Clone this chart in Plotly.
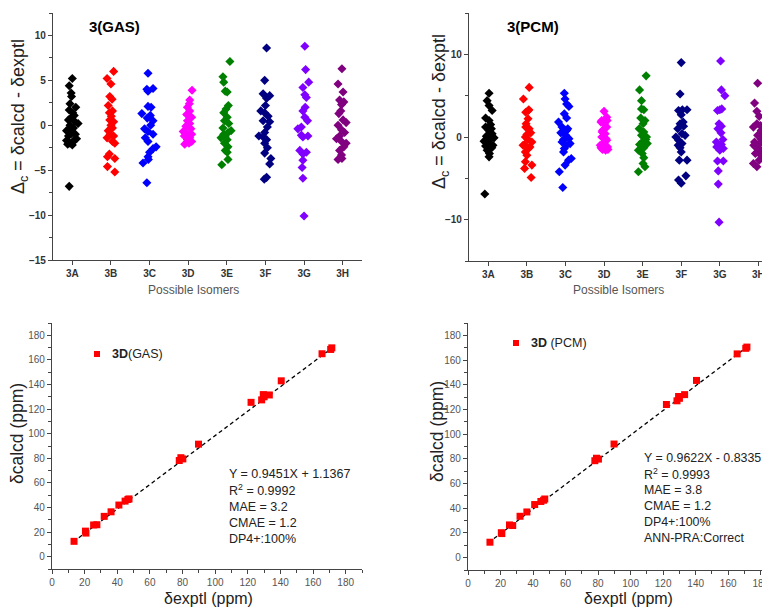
import plotly.graph_objects as go

# isomer labels and colours
ISOMERS = ["3A", "3B", "3C", "3D", "3E", "3F", "3G", "3H"]
COLORS = ["#000000", "#ff0000", "#0000ff", "#ff00ff", "#008000", "#000080", "#8000ff", "#800080"]

# Δc values (GAS) per isomer, with the horizontal scatter offsets
GAS_3A = [5.2, 4.4, 3.6, 3.2, 2.4, 2.0, 1.7, 1.4, 1.1, 0.9, 0.6, 0.4, 0.2, 0.0, -0.3, -0.4, -0.6, -0.9, -1.0, -1.2, -1.5, -1.6, -1.7, -1.8, -2.0, -2.1, -2.2, -6.8]
GAS_3A_DX = [0, -0.08, -0.03, -0.02, -0.06, 0.09, -0.08, 0.01, 0.05, -0.02, -0.1, 0.07, 0.15, -0.06, 0.03, -0.05, -0.15, -0.02, 0.08, -0.1, 0.11, 0.06, -0.15, 0.03, -0.06, -0.12, 0, -0.08]
GAS_3B = [6.0, 5.2, 4.6, 3.2, 2.9, 2.2, 1.6, 1.4, 1.0, 0.6, 0.4, 0.0, -0.3, -0.6, -1.0, -1.2, -1.4, -1.8, -2.0, -3.2, -3.5, -3.7, -4.6, -5.2]
GAS_3B_DX = [0.07, -0.1, 0, -0.03, 0.03, -0.07, 0.04, -0.04, 0.01, -0.03, 0.07, 0, 0.04, -0.07, -0.02, 0.07, -0.1, 0.04, 0.1, -0.04, -0.09, 0.1, -0.09, 0.1]
GAS_3C = [5.8, 4.1, 4.0, 3.8, 2.1, 2.0, 1.3, 1.1, 0.8, 0.5, 0.0, -0.4, -0.7, -1.0, -1.4, -1.8, -2.4, -2.6, -3.0, -3.5, -3.8, -4.2, -6.4]
GAS_3C_DX = [-0.04, 0.09, -0.07, -0.04, -0.04, 0.04, -0.2, 0.02, -0.06, 0.09, 0.03, -0.13, -0.04, 0.09, -0.11, -0.04, 0.17, 0.09, 0, -0.04, -0.03, -0.17, -0.07]
GAS_3D = [3.9, 2.8, 2.4, 2.0, 1.6, 1.2, 0.9, 0.5, 0.2, -0.1, -0.4, -0.7, -0.9, -1.0, -1.2, -1.4, -1.6, -1.8, -2.0, -2.1]
GAS_3D_DX = [0.1, 0.04, 0.03, -0.02, 0.04, -0.04, 0.09, -0.02, 0.04, -0.06, 0.07, -0.13, -0.04, 0.09, -0.1, 0.04, -0.02, 0.09, 0.02, -0.09]
GAS_3E = [7.1, 5.4, 4.8, 3.8, 3.7, 2.2, 1.8, 1.4, 0.9, 0.5, 0.2, -0.3, -0.6, -0.8, -1.0, -1.2, -1.4, -1.6, -2.0, -2.4, -2.8, -3.0, -3.8, -4.4]
GAS_3E_DX = [0.08, -0.1, -0.08, -0.04, 0.01, 0.04, -0.02, -0.08, 0.01, -0.06, 0.05, -0.1, 0.11, 0.03, -0.08, -0.04, -0.15, 0.01, -0.06, 0.03, -0.04, 0.01, 0.03, -0.13]
GAS_3F = [8.6, 5.0, 3.5, 3.3, 3.0, 2.2, 1.6, 1.4, 1.0, 0.5, 0.4, -0.2, -0.8, -1.2, -1.3, -1.6, -2.0, -2.5, -3.1, -3.7, -4.3, -5.8, -6.0]
GAS_3F_DX = [0.03, -0.02, -0.06, 0.11, 0.03, 0, -0.12, -0.02, 0.07, -0.06, 0.11, 0.05, -0.02, -0.17, -0.06, 0.03, -0.02, 0.05, -0.02, 0.14, 0.11, 0.03, -0.03]
GAS_3G = [8.8, 6.2, 4.8, 4.2, 3.4, 3.1, 2.0, 1.6, 0.9, 0.5, -0.2, -0.4, -1.1, -1.2, -1.3, -2.8, -3.0, -3.2, -3.9, -4.7, -5.9, -10.1]
GAS_3G_DX = [0.02, 0.04, 0.12, -0.03, 0.02, 0.06, 0.03, -0.03, 0.02, 0.09, -0.07, -0.16, -0.07, 0.1, -0.03, -0.11, 0.06, -0.03, -0.03, -0.05, -0.03, 0]
GAS_3H = [6.3, 4.6, 3.7, 2.8, 2.6, 2.3, 1.6, 1.3, 0.6, 0.3, 0.0, -0.5, -0.8, -1.2, -1.5, -1.8, -2.0, -2.4, -2.8, -3.3, -3.7, -3.8]
GAS_3H_DX = [-0.02, -0.12, 0.01, -0.08, 0.03, -0.03, -0.05, -0.1, 0.01, 0.09, -0.12, -0.03, 0.05, -0.08, -0.16, -0.03, 0.09, 0.03, -0.08, -0.03, -0.02, -0.12]

# Δc values (PCM) per isomer
PCM_3A = [5.3, 4.4, 3.8, 3.2, 2.3, 2.0, 1.5, 1.2, 0.8, 0.4, -0.1, -0.5, -0.8, -1.1, -1.3, -1.6, -2.0, -2.4, -6.9, 1.0, 0.1, -0.3, -1.0]
PCM_3A_DX = [0.02, -0.03, 0.02, 0.1, -0.07, 0.02, 0.06, -0.07, 0.02, 0.1, 0.15, -0.11, 0.02, -0.07, 0.09, -0.03, 0.03, 0.02, -0.09, 0.08, -0.05, 0.05, 0.12]
PCM_3B = [6.0, 4.6, 3.2, 3.0, 2.2, 1.2, 1.0, 0.5, 0.0, -0.3, -0.6, -0.9, -1.4, -1.8, -2.2, -3.0, -3.4, -3.8, -4.9, 3.3, 1.6, -1.0, -1.2, 0.3]
PCM_3B_DX = [0.06, -0.09, 0.04, -0.03, 0.03, -0.03, 0.06, 0.1, -0.04, 0.03, 0.13, -0.06, 0.04, -0.04, 0, -0.04, 0.13, -0.06, 0.11, 0.05, -0.02, -0.1, 0.08, 0.0]
PCM_3C = [5.3, 4.6, 4.0, 3.7, 2.8, 2.3, 1.8, 1.2, 0.8, 0.3, -0.2, -0.6, -1.0, -1.4, -1.8, -2.6, -2.8, -3.4, -4.2, -6.1, 1.0, -0.3, -0.8, 0.5]
PCM_3C_DX = [-0.03, -0.01, 0.03, 0.09, -0.03, 0.03, -0.18, -0.09, 0.03, -0.01, 0.09, -0.09, 0.03, -0.03, -0.05, 0.15, 0.08, -0.01, -0.16, -0.07, 0.06, -0.05, 0.12, -0.12]
PCM_3D = [3.1, 2.4, 2.0, 1.6, 1.2, 0.8, 0.4, 0.0, -0.4, -0.8, -1.0, -1.2, -1.5, -1.6, 2.0, 1.8, 0.6, -0.2, -1.3, -1.5]
PCM_3D_DX = [0, 0.07, -0.06, 0.01, 0.07, -0.04, 0.03, -0.06, 0.07, -0.02, -0.1, 0.09, -0.04, 0.04, 0.08, -0.08, -0.05, 0.05, -0.08, 0.1]
PCM_3E = [7.4, 5.7, 4.4, 3.4, 3.3, 2.3, 1.6, 1.0, 0.6, 0.2, -0.3, -0.6, -0.9, -1.3, -1.6, -2.0, -2.5, -3.2, -3.6, -4.2, 2.0, -0.8, -1.1, 0.0]
PCM_3E_DX = [0.09, -0.08, -0.03, -0.03, 0.03, -0.05, 0.01, -0.09, 0.03, -0.03, 0.08, -0.01, -0.08, 0.03, -0.11, -0.01, 0.03, 0.01, 0.06, -0.11, 0.06, 0.12, 0.0, 0.1]
PCM_3F = [9.0, 5.2, 3.3, 3.2, 2.7, 1.6, 1.3, 1.0, 0.4, 0.0, -0.4, -0.8, -1.3, -1.8, -2.8, -2.8, -4.7, -5.2, -5.6, 3.3, 1.8, 0.2, -1.0]
PCM_3F_DX = [0, -0.03, 0.03, -0.07, 0, -0.03, 0.06, -0.09, 0.02, -0.14, -0.07, 0.02, -0.03, 0, -0.05, 0.15, 0.12, -0.07, 0, 0.15, 0.05, 0.1, -0.08]
PCM_3G = [9.2, 5.7, 5.0, 3.3, 3.2, 1.6, 1.3, 0.5, -0.6, -0.9, -1.0, -1.4, -2.9, -2.9, -4.1, -5.7, -10.3, 3.4, 1.0, -0.3, -1.2, -1.6]
PCM_3G_DX = [0.02, 0.04, 0.13, 0, -0.06, -0.02, 0.04, 0.03, -0.09, 0.04, -0.04, 0.09, -0.06, 0.09, -0.04, -0.04, -0.02, 0.05, -0.05, 0.08, -0.08, 0.0]
PCM_3H = [6.5, 4.1, 3.1, 2.5, 1.6, 1.2, 0.8, 0.2, -0.6, -0.8, -1.2, -1.8, -2.2, -3.2, -3.6, 1.4, 0.5, -0.3, -1.0, -1.5, -2.0, -2.8]
PCM_3H_DX = [-0.02, -0.1, -0.04, 0.02, -0.04, -0.13, 0.07, -0.02, -0.1, 0.02, -0.07, -0.02, 0.07, -0.13, -0.04, 0.05, 0.1, 0.08, -0.12, 0.05, -0.08, 0.02]

GAS_SETS = [(GAS_3A, GAS_3A_DX), (GAS_3B, GAS_3B_DX), (GAS_3C, GAS_3C_DX), (GAS_3D, GAS_3D_DX),
            (GAS_3E, GAS_3E_DX), (GAS_3F, GAS_3F_DX), (GAS_3G, GAS_3G_DX), (GAS_3H, GAS_3H_DX)]
PCM_SETS = [(PCM_3A, PCM_3A_DX), (PCM_3B, PCM_3B_DX), (PCM_3C, PCM_3C_DX), (PCM_3D, PCM_3D_DX),
            (PCM_3E, PCM_3E_DX), (PCM_3F, PCM_3F_DX), (PCM_3G, PCM_3G_DX), (PCM_3H, PCM_3H_DX)]

# 3D correlation: experimental vs calculated shifts (ppm)
EXPTL = [13.5, 20.5, 20.8, 25.5, 27.5, 32.0, 36.2, 41.0, 44.8, 46.5, 47.2, 78.0, 79.0, 80.2, 89.8,
         122.0, 128.5, 129.5, 130.0, 133.2, 140.5, 165.5, 170.8, 171.5]
CALCD_GAS = [12.5, 20.8, 19.2, 25.8, 26.0, 32.8, 36.5, 42.0, 45.2, 46.5, 47.0, 78.2, 80.5, 79.5, 91.5,
             125.5, 127.5, 131.8, 130.0, 131.5, 143.0, 165.0, 168.5, 169.8]
CALCD_PCM = [12.5, 20.2, 19.5, 26.5, 26.0, 33.5, 37.0, 43.0, 45.5, 46.5, 47.5, 78.5, 80.5, 79.8, 92.0,
             124.0, 127.0, 130.5, 129.0, 132.0, 143.5, 165.0, 169.5, 170.5]
GAS_FIT_X = [13, 172]
GAS_FIT_Y = [12, 170]
PCM_FIT_X = [12.5, 172]
PCM_FIT_Y = [12, 171]

GAS_STATS = ["Y = 0.9451X + 1.1367", "R<sup>2</sup> = 0.9992", "MAE = 3.2", "CMAE = 1.2", "DP4+:100%"]
PCM_STATS = ["Y = 0.9622X - 0.8335", "R<sup>2</sup> = 0.9993", "MAE = 3.8", "CMAE = 1.2", "DP4+:100%",
             "ANN-PRA:Correct"]

# page body has an 8px margin, so the figure sits 8px in from the window corner
OFF = 8
W, H = 770 - OFF, 608 - OFF
FONT = "Liberation Sans, Arial, sans-serif"
AX = "#444444"


def fx(x):
    return (x - OFF) / W


def fy(y):
    return 1 - (y - OFF) / H


fig = go.Figure()

# top scatter panels
for sets, xa, ya in [(GAS_SETS, "x", "y"), (PCM_SETS, "x2", "y2")]:
    for i, (vals, dx) in enumerate(sets):
        fig.add_trace(go.Scatter(
            x=[i + 1 + d for d in dx], y=vals, mode="markers",
            marker=dict(symbol="diamond", size=7, color=COLORS[i]),
            xaxis=xa, yaxis=ya, showlegend=False, hoverinfo="skip"))

# bottom correlation panels
for calc, lx, ly, xa, ya in [(CALCD_GAS, GAS_FIT_X, GAS_FIT_Y, "x3", "y3"),
                             (CALCD_PCM, PCM_FIT_X, PCM_FIT_Y, "x4", "y4")]:
    fig.add_trace(go.Scatter(x=lx, y=ly, mode="lines", xaxis=xa, yaxis=ya,
                             line=dict(color="black", width=1.3, dash="4px,3px"),
                             showlegend=False, hoverinfo="skip"))
    fig.add_trace(go.Scatter(x=EXPTL, y=calc, mode="markers", xaxis=xa, yaxis=ya,
                             marker=dict(symbol="square", size=7, color="#ff0000"),
                             showlegend=False, hoverinfo="skip"))

base_axis = dict(showline=True, linecolor=AX, linewidth=1.3, ticks="outside", ticklen=4,
                 tickcolor=AX, tickwidth=1.2, showgrid=False, zeroline=False, automargin=False)
cat_tick = dict(tickfont=dict(family=FONT, size=10, color="#333", weight="bold"))
num_tick = dict(tickfont=dict(family=FONT, size=10, color="#555"))


def minor(step):
    return dict(ticks="outside", dtick=step, ticklen=2.5, tickcolor=AX)


fig.update_layout(
    width=W, height=H, margin=dict(l=0, r=0, t=0, b=0),
    paper_bgcolor="white", plot_bgcolor="white",
    font=dict(family=FONT),
    xaxis=dict(base_axis, domain=[fx(53), fx(362)], anchor="y", range=[0.5, 8.5],
               tickvals=list(range(1, 9)), ticktext=ISOMERS, **cat_tick),
    yaxis=dict(base_axis, domain=[fy(260), fy(13)], anchor="x", range=[-15, 12.5],
               dtick=5, minor=minor(2.5), **cat_tick),
    xaxis2=dict(base_axis, domain=[fx(469), 1.0], anchor="y2", range=[0.5, 8.3],
                tickvals=list(range(1, 9)), ticktext=ISOMERS, **cat_tick),
    yaxis2=dict(base_axis, domain=[fy(261), fy(13)], anchor="x2", range=[-15, 15],
                dtick=10, minor=minor(5), **cat_tick),
    xaxis3=dict(base_axis, domain=[fx(52), fx(362)], anchor="y3", range=[0, 190], dtick=20,
                minor=minor(10), **num_tick),
    yaxis3=dict(base_axis, domain=[fy(569), fy(323)], anchor="x3", range=[-10, 190], dtick=20,
                minor=minor(10), **num_tick),
    xaxis4=dict(base_axis, domain=[fx(468), 1.0], anchor="y4", range=[0, 185.7], dtick=20,
                minor=minor(10), **num_tick),
    yaxis4=dict(base_axis, domain=[fy(570), fy(323)], anchor="x4", range=[-10, 190], dtick=20,
                minor=minor(10), **num_tick),
)

annots = []


def note(x, y, text, size, color="black", angle=0, xanchor="center", **kw):
    annots.append(dict(x=fx(x), y=fy(y), xref="paper", yref="paper", text=text, showarrow=False,
                       textangle=angle, xanchor=xanchor, yanchor="middle",
                       font=dict(family=FONT, size=size, color=color, **kw)))


# panel titles
note(114, 27, "3(GAS)", 15, weight="bold")
note(533, 27, "3(PCM)", 15, weight="bold")

# axis titles
ytitle = "Δ<sub>c</sub> = δcalcd - δexptl"
note(20, 117, ytitle, 18, "#222", angle=-90)
note(440, 112, ytitle, 18, "#222", angle=-90)
note(193, 290, "Possible Isomers", 12, "#555")
note(618, 290, "Possible Isomers", 12, "#555")
note(17, 434, "δcalcd (ppm)", 17.5, "#222", angle=-90)
note(437, 432, "δcalcd (ppm)", 17.5, "#222", angle=-90)
note(208, 598, "δexptl (ppm)", 16, "#222")
note(628, 598, "δexptl (ppm)", 16, "#222")

# legends
note(110, 354, "<b>3D</b>(GAS)", 12.5, "#222", xanchor="left")
note(529, 343, "<b>3D</b> (PCM)", 12.5, "#222", xanchor="left")
shapes = []
for cx, cy in [(97, 354), (516, 343)]:
    shapes.append(dict(type="rect", xref="paper", yref="paper",
                       x0=fx(cx - 3), y0=fy(cy + 3), x1=fx(cx + 3), y1=fy(cy - 3),
                       fillcolor="#ff0000", line=dict(width=0)))

# statistics
for k, line in enumerate(GAS_STATS):
    note(227, 474 + 16.3 * k, line, 12.5, "#222", xanchor="left")
for k, line in enumerate(PCM_STATS):
    note(642, 458 + 16 * k, line, 12.4, "#222", xanchor="left")

fig.update_layout(annotations=annots, shapes=shapes)
fig.write_html("out.html")
